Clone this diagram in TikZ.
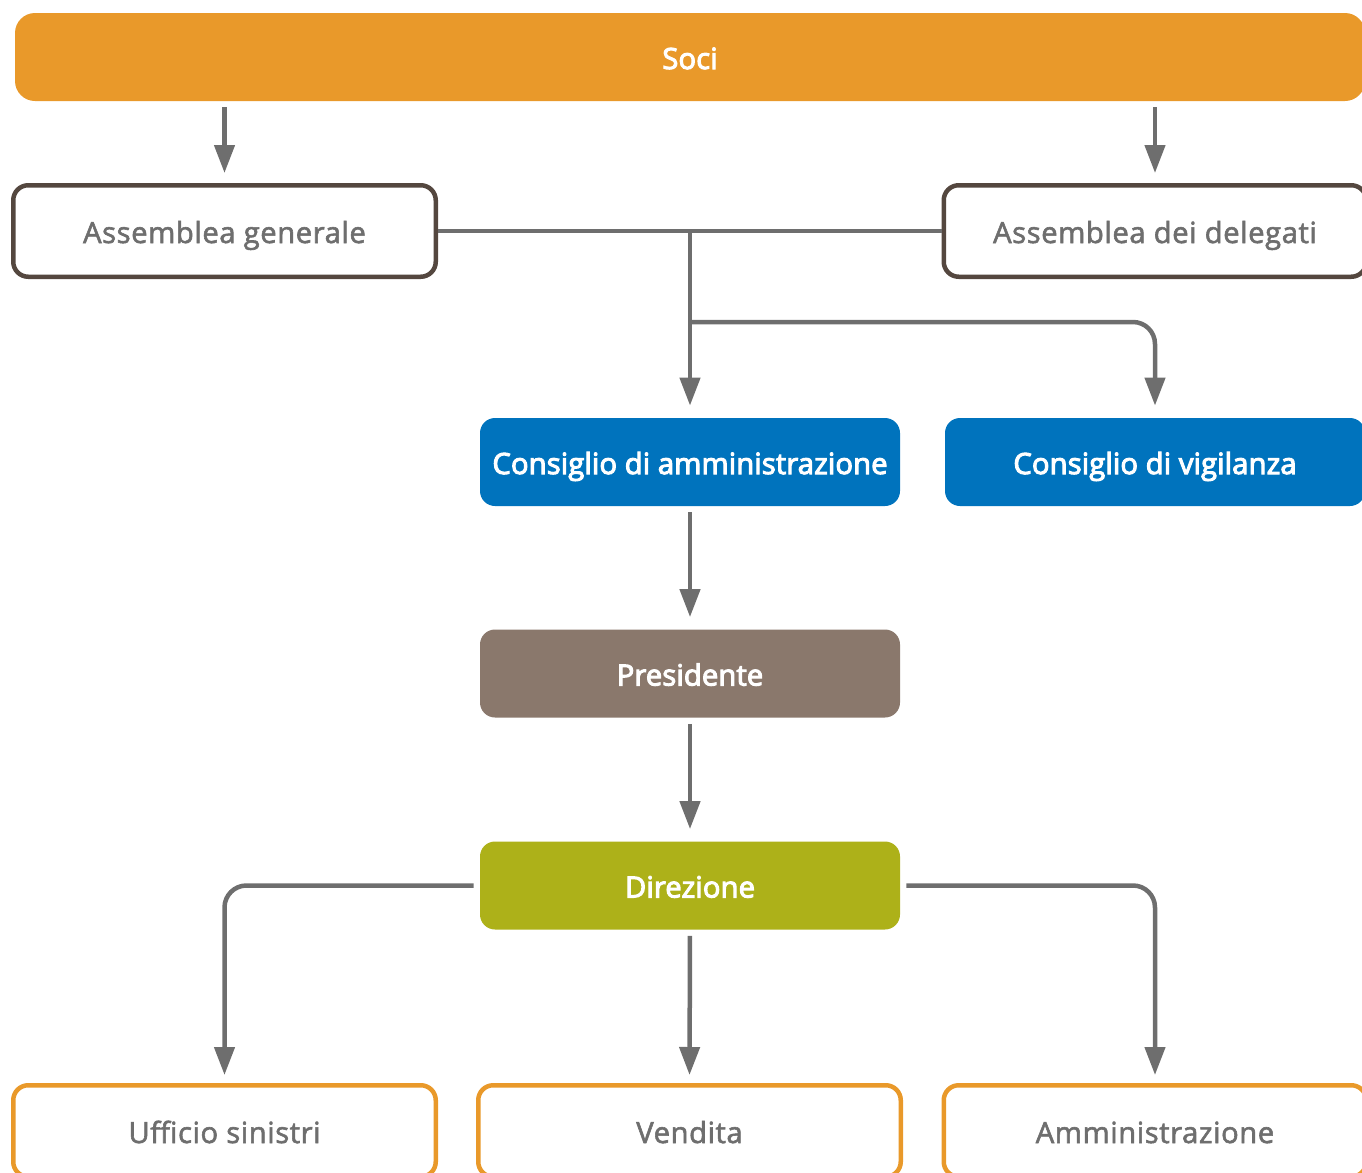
\documentclass[tikz,border=0pt]{standalone}
\usepackage{fontspec}
\setmainfont{Open Sans}
\newfontfamily\grassetto[FakeBold=3.5,LetterSpace=0.4]{Open Sans}
\newfontfamily\medio[FakeBold=2,LetterSpace=2]{Open Sans}
\usetikzlibrary{arrows.meta}
\definecolor{arancio}{HTML}{E9992A}
\definecolor{marrone}{HTML}{54473F}
\definecolor{blu}{HTML}{0073BD}
\definecolor{tortora}{HTML}{8A786C}
\definecolor{oliva}{HTML}{ADB119}
\definecolor{grigio}{HTML}{6E6E6E}
\tikzset{
  box/.style={rounded corners=7.5pt,minimum width=210pt,minimum height=44pt,inner sep=0pt,
    text height=12pt,text depth=0pt},
  pieno/.style={box,fill=#1,text=white,font=\fontsize{14.6}{17}\grassetto},
  bordo/.style={box,draw=#1,line width=2.25pt,fill=white,text=grigio,
    minimum width=211.25pt,minimum height=45.75pt,font=\fontsize{14.6}{17}\medio},
  freccia/.style={draw=grigio,line width=2.25pt,rounded corners=11pt,
    -{Triangle[width=10pt,length=14pt]},shorten <=3pt,shorten >=6pt},
  linea/.style={draw=grigio,line width=2.25pt}
}
\begin{document}
\begin{tikzpicture}[x=0.5pt,y=-0.5pt]
  \useasboundingbox (0,0) rectangle (1362,1173);
  \clip (0,0) rectangle (1362,1173);
  % vertici
  \node[pieno=arancio,rounded corners=10pt,minimum width=675pt] (soci) at (690,57) {Soci};
  \node[bordo=marrone] (ag) at (224.5,231) {Assemblea generale};
  \node[bordo=marrone] (ad) at (1155,231) {Assemblea dei delegati};
  \node[pieno=blu] (cda) at (690,462) {Consiglio di amministrazione};
  \node[pieno=blu] (cdv) at (1155,462) {Consiglio di vigilanza};
  \node[pieno=tortora] (pres) at (690,673.5) {Presidente};
  \node[pieno=oliva] (dir) at (690,885.5) {Direzione};
  \node[bordo=arancio] (uff) at (224.5,1131) {Ufficio sinistri};
  \node[bordo=arancio] (ven) at (689.5,1131) {Vendita};
  \node[bordo=arancio] (amm) at (1155,1131) {Amministrazione};
  % collegamenti
  \coordinate (j1) at (ag.east -| cda.north);
  \coordinate (j2) at (690,322);
  \draw[freccia,shorten >=5pt] (soci.south -| ag.north) -- (ag.north);
  \draw[freccia,shorten >=5pt] (soci.south -| ad.north) -- (ad.north);
  \draw[linea] (ag.east) -- (ad.west);
  \draw[freccia,shorten <=0pt] (j1) -- (cda.north);
  \draw[freccia,shorten <=0pt] (j2) -| (cdv.north);
  \draw[freccia] (cda.south) -- (pres.north);
  \draw[freccia] (pres.south) -- (dir.north);
  \draw[freccia,shorten >=4pt] (dir.west) -| (uff.north);
  \draw[freccia,shorten >=4pt] (dir.south) -- (ven.north);
  \draw[freccia,shorten >=4pt] (dir.east) -| (amm.north);
\end{tikzpicture}
\end{document}
